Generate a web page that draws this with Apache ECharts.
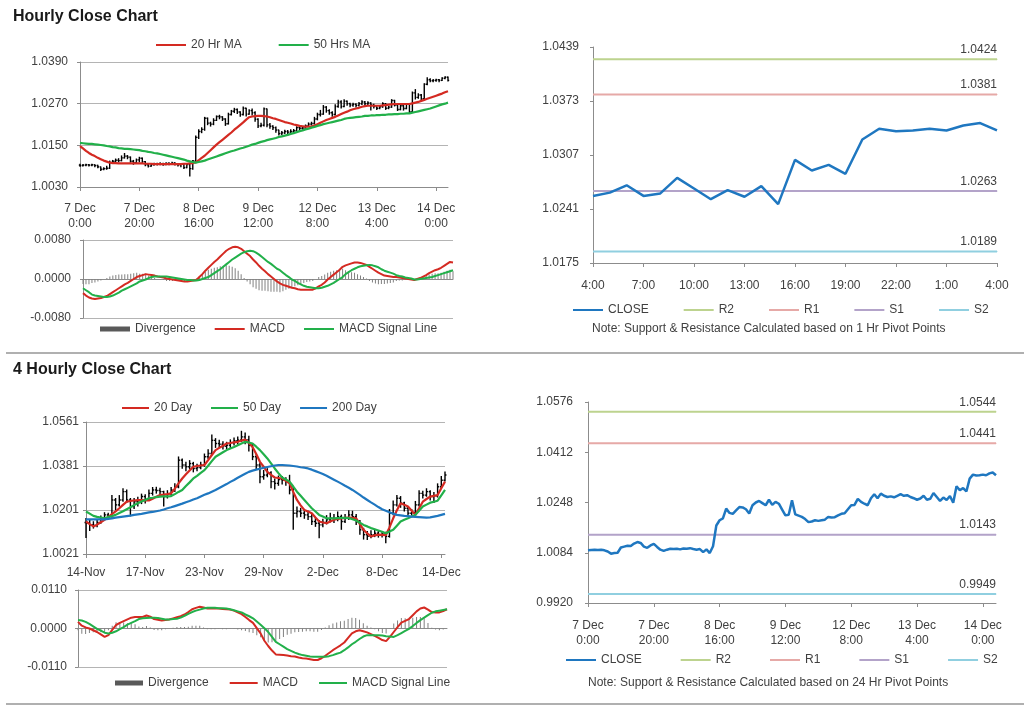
<!DOCTYPE html>
<html><head><meta charset="utf-8">
<script src="https://cdn.jsdelivr.net/npm/echarts@6/dist/echarts.min.js"></script>
<style>html,body{margin:0;padding:0;background:#fff}#c{width:1024px;height:706px}</style>
</head><body><div id="c"></div><script>
// ---------- hourly data (7 Dec 0:00 .. 14 Dec 4:00) ----------
const hourTickLabels = ['7 Dec\n0:00','7 Dec\n20:00','8 Dec\n16:00','9 Dec\n12:00','12 Dec\n8:00','13 Dec\n4:00','14 Dec\n0:00'];
const hourFirstOpen = 1.0093;
const hourClose = [
1.0092,1.0093,1.0094,1.0093,1.0094,1.0092,1.0088,1.0081,1.0083,1.0084,
1.0101,1.0104,1.0107,1.0106,1.0114,1.0119,1.0116,1.0104,1.0100,1.0108,
1.0113,1.0103,1.0094,1.0090,1.0094,1.0097,1.0096,1.0097,1.0095,1.0098,
1.0097,1.0099,1.0096,1.0094,1.0096,1.0086,1.0095,1.0083,1.0105,1.0173,
1.0190,1.0196,1.0228,1.0214,1.0211,1.0222,1.0233,1.0232,1.0226,1.0212,
1.0239,1.0248,1.0253,1.0246,1.0239,1.0257,1.0240,1.0250,1.0244,1.0225,
1.0206,1.0208,1.0255,1.0209,1.0205,1.0201,1.0194,1.0184,1.0186,1.0190,
1.0188,1.0190,1.0192,1.0201,1.0199,1.0200,1.0206,1.0211,1.0213,1.0226,
1.0239,1.0240,1.0260,1.0250,1.0244,1.0239,1.0262,1.0275,1.0262,1.0277,
1.0270,1.0266,1.0268,1.0265,1.0270,1.0275,1.0270,1.0272,1.0266,1.0262,
1.0257,1.0261,1.0270,1.0257,1.0260,1.0279,1.0266,1.0253,1.0264,1.0256,
1.0269,1.0247,1.0301,1.0288,1.0295,1.0284,1.0326,1.0339,1.0336,1.0337,
1.0339,1.0337,1.0343,1.0346,1.0337];
const hourHigh = [
1.0097,1.0096,1.0097,1.0096,1.0097,1.0095,1.0094,1.0089,1.0087,1.0091,
1.0106,1.0108,1.0112,1.0113,1.0121,1.0128,1.0122,1.0118,1.0108,1.0112,
1.0117,1.0115,1.0105,1.0096,1.0098,1.0100,1.0100,1.0101,1.0100,1.0101,
1.0101,1.0103,1.0101,1.0099,1.0099,1.0098,1.0099,1.0097,1.0108,1.0178,
1.0196,1.0202,1.0232,1.0230,1.0218,1.0228,1.0236,1.0238,1.0234,1.0228,
1.0244,1.0252,1.0258,1.0256,1.0248,1.0262,1.0258,1.0254,1.0256,1.0248,
1.0228,1.0215,1.0259,1.0256,1.0214,1.0208,1.0204,1.0195,1.0191,1.0195,
1.0194,1.0196,1.0197,1.0205,1.0204,1.0205,1.0210,1.0216,1.0218,1.0232,
1.0244,1.0252,1.0266,1.0263,1.0254,1.0248,1.0268,1.0281,1.0280,1.0283,
1.0279,1.0273,1.0273,1.0271,1.0275,1.0280,1.0278,1.0277,1.0274,1.0270,
1.0262,1.0265,1.0274,1.0272,1.0264,1.0283,1.0281,1.0268,1.0267,1.0266,
1.0272,1.0271,1.0305,1.0312,1.0300,1.0298,1.0329,1.0346,1.0343,1.0341,
1.0342,1.0341,1.0346,1.0349,1.0348];
const hourLow = [
1.0088,1.0089,1.0090,1.0089,1.0090,1.0087,1.0084,1.0076,1.0078,1.0080,
1.0082,1.0099,1.0102,1.0101,1.0104,1.0112,1.0110,1.0100,1.0094,1.0098,
1.0101,1.0099,1.0090,1.0086,1.0088,1.0092,1.0092,1.0093,1.0091,1.0093,
1.0093,1.0094,1.0092,1.0089,1.0087,1.0082,1.0084,1.0060,1.0080,1.0102,
1.0168,1.0185,1.0192,1.0208,1.0204,1.0208,1.0220,1.0225,1.0220,1.0206,
1.0210,1.0236,1.0243,1.0240,1.0232,1.0236,1.0233,1.0238,1.0236,1.0218,
1.0200,1.0202,1.0204,1.0202,1.0198,1.0194,1.0186,1.0178,1.0180,1.0183,
1.0182,1.0184,1.0186,1.0190,1.0193,1.0195,1.0198,1.0203,1.0207,1.0210,
1.0222,1.0233,1.0238,1.0244,1.0238,1.0232,1.0236,1.0258,1.0256,1.0260,
1.0264,1.0260,1.0261,1.0259,1.0262,1.0266,1.0264,1.0264,1.0250,1.0256,
1.0252,1.0254,1.0258,1.0252,1.0254,1.0258,1.0262,1.0249,1.0251,1.0250,
1.0254,1.0242,1.0244,1.0282,1.0284,1.0280,1.0282,1.0323,1.0332,1.0332,
1.0333,1.0332,1.0335,1.0340,1.0334];
const hourMA20 = [
1.0148,1.0141,1.0134,1.0128,1.0123,1.0119,1.0114,1.0110,1.0106,1.0103,
1.0100,1.0099,1.0099,1.0098,1.0098,1.0098,1.0098,1.0098,1.0098,1.0098,
1.0098,1.0098,1.0097,1.0097,1.0097,1.0096,1.0096,1.0096,1.0096,1.0096,
1.0096,1.0096,1.0096,1.0096,1.0096,1.0097,1.0097,1.0098,1.0099,1.0101,
1.0107,1.0114,1.0120,1.0128,1.0136,1.0144,1.0152,1.0159,1.0166,1.0173,
1.0180,1.0187,1.0195,1.0202,1.0209,1.0216,1.0224,1.0231,1.0233,1.0234,
1.0235,1.0235,1.0234,1.0233,1.0231,1.0228,1.0226,1.0223,1.0220,1.0217,
1.0215,1.0213,1.0210,1.0208,1.0206,1.0205,1.0204,1.0204,1.0204,1.0207,
1.0211,1.0215,1.0219,1.0223,1.0226,1.0229,1.0232,1.0236,1.0240,1.0244,
1.0247,1.0251,1.0254,1.0256,1.0258,1.0261,1.0263,1.0264,1.0264,1.0264,
1.0264,1.0264,1.0265,1.0266,1.0267,1.0268,1.0269,1.0269,1.0269,1.0269,
1.0269,1.0269,1.0271,1.0273,1.0275,1.0278,1.0281,1.0284,1.0287,1.0290,
1.0293,1.0296,1.0299,1.0303,1.0306];
const hourMA50 = [
1.0157,1.0156,1.0155,1.0154,1.0154,1.0153,1.0152,1.0151,1.0150,1.0148,
1.0147,1.0145,1.0144,1.0142,1.0141,1.0140,1.0140,1.0139,1.0138,1.0137,
1.0136,1.0134,1.0133,1.0131,1.0130,1.0128,1.0127,1.0125,1.0123,1.0121,
1.0119,1.0117,1.0115,1.0113,1.0111,1.0109,1.0106,1.0104,1.0102,1.0100,
1.0102,1.0104,1.0106,1.0109,1.0112,1.0115,1.0118,1.0121,1.0124,1.0127,
1.0130,1.0133,1.0135,1.0138,1.0141,1.0143,1.0146,1.0149,1.0152,1.0154,
1.0157,1.0160,1.0162,1.0165,1.0167,1.0169,1.0171,1.0174,1.0176,1.0178,
1.0180,1.0183,1.0185,1.0188,1.0191,1.0193,1.0196,1.0198,1.0201,1.0203,
1.0206,1.0208,1.0211,1.0213,1.0215,1.0217,1.0219,1.0221,1.0223,1.0226,
1.0228,1.0229,1.0230,1.0231,1.0232,1.0233,1.0235,1.0235,1.0236,1.0236,
1.0237,1.0237,1.0238,1.0238,1.0239,1.0239,1.0240,1.0240,1.0241,1.0241,
1.0242,1.0242,1.0244,1.0246,1.0248,1.0250,1.0252,1.0254,1.0256,1.0259,
1.0262,1.0265,1.0268,1.0270,1.0273];
const hourMACD = [
-0.0029,-0.0034,-0.0038,-0.0040,-0.0041,-0.0040,-0.0039,-0.0037,-0.0035,-0.0031,
-0.0027,-0.0023,-0.0019,-0.0015,-0.0011,-0.0008,-0.0004,0.0000,0.0004,0.0006,
0.0008,0.0010,0.0009,0.0008,0.0007,0.0005,0.0004,0.0003,0.0001,0.0000,
-0.0001,-0.0002,-0.0003,-0.0004,-0.0005,-0.0005,-0.0004,-0.0003,-0.0002,0.0004,
0.0010,0.0017,0.0023,0.0029,0.0035,0.0040,0.0046,0.0052,0.0058,0.0062,
0.0065,0.0066,0.0065,0.0062,0.0057,0.0052,0.0047,0.0040,0.0034,0.0027,
0.0021,0.0016,0.0010,0.0005,0.0000,-0.0005,-0.0009,-0.0012,-0.0014,-0.0016,
-0.0018,-0.0019,-0.0021,-0.0022,-0.0022,-0.0022,-0.0022,-0.0022,-0.0019,-0.0015,
-0.0012,-0.0007,-0.0001,0.0004,0.0009,0.0014,0.0019,0.0025,0.0028,0.0030,
0.0032,0.0034,0.0034,0.0033,0.0031,0.0029,0.0025,0.0021,0.0017,0.0013,
0.0010,0.0007,0.0006,0.0005,0.0004,0.0004,0.0003,0.0002,0.0001,0.0000,
-0.0001,-0.0002,0.0000,0.0002,0.0005,0.0008,0.0012,0.0015,0.0018,0.0020,
0.0023,0.0027,0.0031,0.0035,0.0034];
const hourSignal = [
-0.0019,-0.0023,-0.0027,-0.0032,-0.0034,-0.0035,-0.0036,-0.0037,-0.0037,-0.0036,
-0.0034,-0.0031,-0.0028,-0.0024,-0.0021,-0.0018,-0.0015,-0.0012,-0.0009,-0.0005,
-0.0003,-0.0001,0.0002,0.0004,0.0005,0.0005,0.0005,0.0005,0.0005,0.0004,
0.0003,0.0002,0.0001,0.0000,-0.0001,-0.0002,-0.0002,-0.0003,-0.0003,-0.0002,
0.0000,0.0002,0.0004,0.0008,0.0012,0.0016,0.0020,0.0025,0.0030,0.0035,
0.0040,0.0044,0.0048,0.0052,0.0055,0.0057,0.0058,0.0057,0.0054,0.0050,
0.0045,0.0040,0.0035,0.0031,0.0026,0.0021,0.0018,0.0013,0.0008,0.0004,
-0.0001,-0.0004,-0.0008,-0.0011,-0.0014,-0.0016,-0.0017,-0.0018,-0.0019,-0.0019,
-0.0018,-0.0016,-0.0014,-0.0011,-0.0008,-0.0004,0.0000,0.0004,0.0010,0.0014,
0.0018,0.0021,0.0024,0.0026,0.0027,0.0028,0.0029,0.0028,0.0026,0.0024,
0.0020,0.0017,0.0015,0.0013,0.0011,0.0008,0.0006,0.0005,0.0003,0.0002,
0.0001,-0.0001,-0.0001,0.0000,0.0001,0.0002,0.0003,0.0004,0.0006,0.0008,
0.0010,0.0012,0.0014,0.0016,0.0018];
// last 24 hours (13 Dec 4:00 .. 14 Dec 4:00) of the hourly closes
const lastDayStart = 100;
const lastDayTickLabels = ['4:00','7:00','10:00','13:00','16:00','19:00','22:00','1:00','4:00'];
const hourPivots = {R2:1.0424, R1:1.0381, S1:1.0263, S2:1.0189};
const dayPivots  = {R2:1.0544, R1:1.0441, S1:1.0143, S2:0.9949};

// ---------- 4-hourly data (14 Nov .. 14 Dec) ----------
const fourTickLabels = ['14-Nov','17-Nov','23-Nov','29-Nov','2-Dec','8-Dec','14-Dec'];
const fourFirstOpen = 1.0150;
const fourClose = [
1.0147,1.0140,1.0138,1.0150,1.0167,1.0181,1.0174,1.0242,1.0222,1.0242,
1.0276,1.0242,1.0215,1.0235,1.0232,1.0256,1.0242,1.0269,1.0283,1.0281,
1.0276,1.0256,1.0268,1.0283,1.0296,1.0405,1.0385,1.0378,1.0391,1.0371,
1.0375,1.0385,1.0419,1.0432,1.0486,1.0473,1.0470,1.0462,1.0466,1.0476,
1.0484,1.0487,1.0500,1.0489,1.0466,1.0419,1.0385,1.0337,1.0344,1.0353,
1.0317,1.0310,1.0326,1.0323,1.0317,1.0283,1.0188,1.0195,1.0188,1.0181,
1.0174,1.0154,1.0147,1.0140,1.0150,1.0161,1.0167,1.0163,1.0174,1.0154,
1.0167,1.0181,1.0174,1.0154,1.0120,1.0100,1.0093,1.0100,1.0106,1.0100,
1.0104,1.0093,1.0188,1.0222,1.0249,1.0229,1.0208,1.0188,1.0191,1.0222,
1.0269,1.0262,1.0276,1.0256,1.0259,1.0296,1.0323,1.0344];
const fourHigh = [
1.0168,1.0160,1.0155,1.0162,1.0178,1.0192,1.0190,1.0262,1.0250,1.0262,
1.0290,1.0285,1.0250,1.0250,1.0255,1.0268,1.0265,1.0285,1.0295,1.0296,
1.0292,1.0280,1.0282,1.0295,1.0310,1.0420,1.0412,1.0398,1.0405,1.0398,
1.0390,1.0398,1.0432,1.0450,1.0510,1.0495,1.0488,1.0482,1.0480,1.0490,
1.0498,1.0502,1.0525,1.0518,1.0505,1.0475,1.0430,1.0395,1.0365,1.0372,
1.0360,1.0330,1.0342,1.0340,1.0335,1.0345,1.0295,1.0215,1.0210,1.0205,
1.0198,1.0185,1.0168,1.0160,1.0165,1.0180,1.0190,1.0185,1.0195,1.0182,
1.0185,1.0200,1.0198,1.0185,1.0160,1.0128,1.0115,1.0118,1.0122,1.0118,
1.0115,1.0112,1.0205,1.0240,1.0262,1.0258,1.0235,1.0215,1.0205,1.0238,
1.0282,1.0280,1.0290,1.0282,1.0275,1.0310,1.0340,1.0358];
const fourLow = [
1.0086,1.0115,1.0125,1.0130,1.0145,1.0160,1.0165,1.0170,1.0200,1.0215,
1.0235,1.0230,1.0175,1.0205,1.0215,1.0225,1.0228,1.0238,1.0260,1.0268,
1.0262,1.0215,1.0248,1.0260,1.0275,1.0290,1.0370,1.0360,1.0368,1.0355,
1.0360,1.0368,1.0378,1.0410,1.0425,1.0455,1.0455,1.0448,1.0450,1.0455,
1.0465,1.0470,1.0480,1.0470,1.0440,1.0405,1.0365,1.0310,1.0325,1.0335,
1.0290,1.0285,1.0300,1.0305,1.0300,1.0265,1.0120,1.0170,1.0172,1.0165,
1.0160,1.0140,1.0132,1.0085,1.0130,1.0142,1.0150,1.0148,1.0155,1.0120,
1.0148,1.0160,1.0160,1.0140,1.0100,1.0080,1.0078,1.0085,1.0090,1.0088,
1.0088,1.0065,1.0088,1.0180,1.0215,1.0210,1.0195,1.0175,1.0178,1.0185,
1.0215,1.0248,1.0255,1.0240,1.0230,1.0252,1.0290,1.0318];
const fourMA20 = [
1.0154,1.0143,1.0134,1.0141,1.0151,1.0161,1.0172,1.0184,1.0195,1.0208,
1.0222,1.0235,1.0238,1.0240,1.0242,1.0241,1.0240,1.0240,1.0247,1.0255,
1.0262,1.0264,1.0266,1.0269,1.0288,1.0310,1.0330,1.0347,1.0363,1.0378,
1.0381,1.0383,1.0385,1.0405,1.0426,1.0446,1.0455,1.0464,1.0473,1.0475,
1.0478,1.0480,1.0485,1.0489,1.0475,1.0459,1.0430,1.0398,1.0378,1.0357,
1.0345,1.0334,1.0332,1.0330,1.0320,1.0310,1.0275,1.0242,1.0220,1.0201,
1.0195,1.0188,1.0170,1.0154,1.0150,1.0147,1.0154,1.0161,1.0164,1.0167,
1.0169,1.0170,1.0169,1.0167,1.0143,1.0120,1.0105,1.0093,1.0097,1.0100,
1.0099,1.0098,1.0130,1.0167,1.0200,1.0229,1.0222,1.0215,1.0198,1.0181,
1.0208,1.0235,1.0246,1.0256,1.0259,1.0262,1.0290,1.0317];
const fourMA50 = [
1.0195,1.0186,1.0177,1.0173,1.0170,1.0167,1.0172,1.0176,1.0181,1.0189,
1.0196,1.0204,1.0212,1.0221,1.0229,1.0236,1.0242,1.0249,1.0251,1.0254,
1.0256,1.0257,1.0257,1.0258,1.0266,1.0275,1.0283,1.0299,1.0314,1.0330,
1.0341,1.0353,1.0364,1.0382,1.0401,1.0419,1.0428,1.0437,1.0446,1.0453,
1.0459,1.0466,1.0473,1.0480,1.0477,1.0473,1.0460,1.0446,1.0429,1.0412,
1.0392,1.0371,1.0352,1.0334,1.0326,1.0317,1.0297,1.0276,1.0259,1.0242,
1.0225,1.0208,1.0195,1.0181,1.0174,1.0167,1.0167,1.0167,1.0168,1.0169,
1.0169,1.0168,1.0163,1.0158,1.0149,1.0140,1.0134,1.0127,1.0122,1.0117,
1.0112,1.0106,1.0113,1.0120,1.0137,1.0154,1.0161,1.0167,1.0174,1.0181,
1.0198,1.0215,1.0223,1.0231,1.0235,1.0239,1.0261,1.0283];
const fourMA200 = [
1.0163,1.0163,1.0163,1.0163,1.0163,1.0163,1.0165,1.0167,1.0170,1.0172,
1.0174,1.0176,1.0178,1.0181,1.0183,1.0185,1.0188,1.0191,1.0193,1.0196,
1.0199,1.0203,1.0208,1.0212,1.0217,1.0222,1.0227,1.0233,1.0238,1.0244,
1.0249,1.0256,1.0263,1.0269,1.0276,1.0283,1.0291,1.0299,1.0307,1.0316,
1.0324,1.0333,1.0341,1.0349,1.0357,1.0362,1.0366,1.0370,1.0374,1.0377,
1.0380,1.0383,1.0385,1.0385,1.0384,1.0383,1.0381,1.0379,1.0376,1.0374,
1.0371,1.0366,1.0360,1.0354,1.0348,1.0341,1.0333,1.0325,1.0317,1.0309,
1.0300,1.0292,1.0283,1.0273,1.0263,1.0252,1.0242,1.0232,1.0223,1.0213,
1.0204,1.0198,1.0192,1.0186,1.0181,1.0179,1.0177,1.0176,1.0174,1.0173,
1.0172,1.0171,1.0170,1.0171,1.0174,1.0177,1.0181,1.0185];
const fourMACD = [
0.0019,0.0008,0.0003,0.0000,-0.0005,-0.0010,-0.0017,-0.0024,-0.0019,-0.0004,
0.0010,0.0016,0.0021,0.0026,0.0031,0.0033,0.0033,0.0033,0.0037,0.0034,
0.0027,0.0025,0.0023,0.0024,0.0026,0.0029,0.0032,0.0035,0.0040,0.0047,
0.0055,0.0059,0.0062,0.0060,0.0057,0.0057,0.0057,0.0057,0.0056,0.0055,
0.0054,0.0051,0.0046,0.0041,0.0033,0.0024,0.0016,0.0001,-0.0014,-0.0035,
-0.0050,-0.0063,-0.0074,-0.0075,-0.0076,-0.0077,-0.0079,-0.0080,-0.0083,-0.0085,
-0.0086,-0.0088,-0.0090,-0.0090,-0.0085,-0.0078,-0.0070,-0.0062,-0.0055,-0.0048,
-0.0040,-0.0027,-0.0014,-0.0008,-0.0005,-0.0008,-0.0011,-0.0016,-0.0021,-0.0027,
-0.0033,-0.0036,-0.0024,-0.0010,0.0004,0.0017,0.0022,0.0027,0.0038,0.0049,
0.0057,0.0060,0.0054,0.0047,0.0046,0.0046,0.0050,0.0055];
const fourSignal = [
0.0024,0.0023,0.0019,0.0013,0.0006,-0.0001,-0.0006,-0.0012,-0.0014,-0.0012,
-0.0008,-0.0002,0.0004,0.0011,0.0016,0.0021,0.0027,0.0029,0.0030,0.0031,
0.0031,0.0030,0.0028,0.0026,0.0026,0.0027,0.0028,0.0031,0.0036,0.0042,
0.0047,0.0051,0.0054,0.0057,0.0059,0.0059,0.0059,0.0058,0.0058,0.0057,
0.0055,0.0052,0.0049,0.0046,0.0040,0.0035,0.0029,0.0020,0.0011,0.0001,
-0.0010,-0.0024,-0.0038,-0.0045,-0.0052,-0.0059,-0.0064,-0.0069,-0.0073,-0.0076,
-0.0078,-0.0080,-0.0081,-0.0081,-0.0081,-0.0081,-0.0079,-0.0076,-0.0072,-0.0069,
-0.0062,-0.0054,-0.0045,-0.0038,-0.0030,-0.0023,-0.0019,-0.0019,-0.0019,-0.0019,
-0.0020,-0.0022,-0.0023,-0.0024,-0.0019,-0.0013,-0.0007,-0.0001,0.0007,0.0016,
0.0024,0.0031,0.0038,0.0045,0.0049,0.0051,0.0053,0.0055];

// ---------- styling ----------
const FONT = "'Liberation Sans', Arial, Helvetica, sans-serif";
const TXT = '#404040', AXIS = '#8c8c8c', GRIDC = '#b4b4b4';
const RED = '#d42a22', GREEN = '#22b04a', BLUE = '#1f77c0', BARGRAY = '#808080';
const LEVEL_COLORS = {R2:'#bdd38f', R1:'#e6a9a7', S1:'#b3a3c9', S2:'#90cfe0'};

const ohlc = (close, high, low, firstOpen) =>
  close.map((c, i) => [i, i === 0 ? firstOpen : close[i - 1], c, low[i], high[i]]);
const diff = (a, b) => a.map((v, i) => +(v - b[i]).toFixed(4));
const idx = n => Array.from({length: n}, (_, i) => String(i));

function renderOHLC(params, api) {
  const x = api.value(0);
  const o = api.coord([x, api.value(1)]), c = api.coord([x, api.value(2)]);
  const l = api.coord([x, api.value(3)]), h = api.coord([x, api.value(4)]);
  const w = Math.max(1.2, api.size([1, 0])[0] * 0.4);
  const st = {stroke: '#000', lineWidth: 1.4};
  return {type: 'group', children: [
    {type: 'line', shape: {x1: h[0], y1: h[1], x2: l[0], y2: l[1]}, style: st},
    {type: 'line', shape: {x1: o[0] - w, y1: o[1], x2: o[0], y2: o[1]}, style: st},
    {type: 'line', shape: {x1: c[0], y1: c[1], x2: c[0] + w, y2: c[1]}, style: st}
  ]};
}

function catAxis(g, n, extra) {
  return Object.assign({
    type: 'category', gridIndex: g, data: idx(n), boundaryGap: false,
    axisLine: {show: true, lineStyle: {color: AXIS, width: 1}},
    axisTick: {show: false}, axisLabel: {show: false}, splitLine: {show: false}
  }, extra || {});
}
function ticked(step, labels, margin, lh) {
  return {
    axisTick: {show: true, interval: step - 1, length: 4, lineStyle: {color: AXIS}},
    axisLabel: {show: true, interval: step - 1, margin, color: TXT, fontSize: 12, fontFamily: FONT,
      lineHeight: lh, formatter: (v, i) => labels[i / step] ?? ''}
  };
}
function valAxis(g, min, max, interval, grid, margin) {
  return {type: 'value', gridIndex: g, min, max, interval,
    axisLine: {show: true, lineStyle: {color: AXIS}},
    axisTick: {show: true, length: 3, lineStyle: {color: AXIS}},
    axisLabel: {color: TXT, fontSize: 12, fontFamily: FONT, margin, formatter: v => v.toFixed(4)},
    splitLine: {show: grid, lineStyle: {color: GRIDC, width: 1}}};
}
function line(name, x, data, color, width) {
  return {name, type: 'line', xAxisIndex: x, yAxisIndex: x, data, symbol: 'none', showSymbol: false,
    lineStyle: {color, width: width || 2}, itemStyle: {color}, z: 3};
}
// horizontal pivot level across the whole axis, labelled at its right end
function level(name, x, n, value) {
  const color = LEVEL_COLORS[name];
  const data = Array.from({length: n}, (_, i) => i === n - 1
    ? {value, symbol: 'circle', symbolSize: 1, label: {show: true}}
    : value);
  return {name, type: 'line', xAxisIndex: x, yAxisIndex: x, data, symbol: 'none', showSymbol: true,
    showAllSymbol: true, lineStyle: {color, width: 2}, itemStyle: {color}, z: 2, silent: true,
    label: {show: false, position: 'top', align: 'right', distance: 3, formatter: value.toFixed(4),
      color: TXT, fontSize: 12, fontFamily: FONT}};
}
const noDot = {opacity: 0};
function legend(names, left, top, gap, w) {
  const data = names.map(n => n === 'Divergence'
    ? {name: n, icon: 'rect', itemStyle: {color: '#595959', opacity: 1}}
    : {name: n, itemStyle: noDot});
  return {data, left, top, padding: 0, itemGap: gap, itemWidth: w || 30, itemHeight: 5, selectedMode: false,
    textStyle: {color: TXT, fontSize: 12, fontFamily: FONT}};
}
const titleFont = "'Liberation Sans Narrow', 'Liberation Sans', Arial";
const noteStyle = {fontSize: 12, fontWeight: 'normal', color: TXT, fontFamily: FONT};

const lastDayClose = hourClose.slice(lastDayStart);

const option = {
  animation: false,
  backgroundColor: '#fff',
  title: [
    {text: 'Hourly Close Chart', left: 13, top: 9, padding: 0, textStyle: {fontSize: 16, fontWeight: 'bold', color: '#1a1a1a', fontFamily: titleFont}},
    {text: '4 Hourly Close Chart', left: 13, top: 362, padding: 0, textStyle: {fontSize: 16, fontWeight: 'bold', color: '#1a1a1a', fontFamily: titleFont}},
    {text: 'Note: Support & Resistance Calculated based on 1 Hr Pivot Points', left: 592, top: 323, padding: 0, textStyle: noteStyle},
    {text: 'Note: Support & Resistance Calculated based on 24 Hr Pivot Points', left: 588, top: 677, padding: 0, textStyle: noteStyle}
  ],
  graphic: [
    {type: 'line', shape: {x1: 6, y1: 353, x2: 1024, y2: 353}, style: {stroke: '#b0b0b0', lineWidth: 2}},
    {type: 'line', shape: {x1: 6, y1: 704, x2: 1024, y2: 704}, style: {stroke: '#b0b0b0', lineWidth: 2}}
  ],
  legend: [
    legend(['20 Hr MA', '50 Hrs MA'], 155, 39, 36),
    legend(['Divergence', 'MACD', 'MACD Signal Line'], 100, 323, 18),
    legend(['CLOSE', 'R2', 'R1', 'S1', 'S2'], 572, 304, 34),
    legend(['20 Day', '50 Day', '200 Day'], 121, 402, 18, 27),
    legend(['Divergence', 'MACD', 'MACD Signal Line'], 115, 677, 20, 28),
    legend(['CLOSE', 'R2', 'R1', 'S1', 'S2'], 565, 654, 38)
  ],
  grid: [
    {left: 80, top: 62, width: 368, height: 125},
    {left: 83, top: 240, width: 370, height: 78},
    {left: 593, top: 47, width: 404, height: 216},
    {left: 86, top: 422, width: 359, height: 132},
    {left: 78, top: 590, width: 369, height: 77},
    {left: 588, top: 402, width: 408, height: 201}
  ],
  xAxis: [
    catAxis(0, hourClose.length, ticked(20, hourTickLabels, 14, 15)),
    catAxis(1, hourClose.length),
    catAxis(2, lastDayClose.length, ticked(3, lastDayTickLabels, 15, 15)),
    catAxis(3, fourClose.length, ticked(16, fourTickLabels, 11, 15)),
    catAxis(4, fourClose.length),
    catAxis(5, hourClose.length, ticked(20, hourTickLabels, 15, 15))
  ],
  yAxis: [
    valAxis(0, 1.0030, 1.0390, 0.0120, true, 12),
    valAxis(1, -0.0080, 0.0080, 0.0080, true, 12),
    valAxis(2, 1.0175, 1.0439, 0.0066, false, 14),
    valAxis(3, 1.0021, 1.0561, 0.0180, true, 7),
    valAxis(4, -0.0110, 0.0110, 0.0110, true, 11),
    valAxis(5, 0.9920, 1.0576, 0.0164, false, 15)
  ],
  series: [
    {type: 'custom', name: 'Hourly', xAxisIndex: 0, yAxisIndex: 0, renderItem: renderOHLC,
      data: ohlc(hourClose, hourHigh, hourLow, hourFirstOpen), encode: {x: 0, y: [1, 2, 3, 4]}, z: 2},
    line('20 Hr MA', 0, hourMA20, RED, 2.2),
    line('50 Hrs MA', 0, hourMA50, GREEN, 2.2),
    {name: 'Divergence', type: 'bar', xAxisIndex: 1, yAxisIndex: 1, data: diff(hourMACD, hourSignal),
      barWidth: 1, itemStyle: {color: BARGRAY}},
    line('MACD', 1, hourMACD, RED, 2),
    line('MACD Signal Line', 1, hourSignal, GREEN, 2),
    level('R2', 2, lastDayClose.length, hourPivots.R2), level('R1', 2, lastDayClose.length, hourPivots.R1),
    level('S1', 2, lastDayClose.length, hourPivots.S1), level('S2', 2, lastDayClose.length, hourPivots.S2),
    line('CLOSE', 2, lastDayClose, BLUE, 2.5),
    {type: 'custom', name: '4 Hourly', xAxisIndex: 3, yAxisIndex: 3, renderItem: renderOHLC,
      data: ohlc(fourClose, fourHigh, fourLow, fourFirstOpen), encode: {x: 0, y: [1, 2, 3, 4]}, z: 2},
    line('20 Day', 3, fourMA20, RED, 2.2),
    line('50 Day', 3, fourMA50, GREEN, 2.2),
    line('200 Day', 3, fourMA200, BLUE, 2.2),
    {name: 'Divergence', type: 'bar', xAxisIndex: 4, yAxisIndex: 4, data: diff(fourMACD, fourSignal),
      barWidth: 1, itemStyle: {color: BARGRAY}},
    line('MACD', 4, fourMACD, RED, 2),
    line('MACD Signal Line', 4, fourSignal, GREEN, 2),
    level('R2', 5, hourClose.length, dayPivots.R2), level('R1', 5, hourClose.length, dayPivots.R1),
    level('S1', 5, hourClose.length, dayPivots.S1), level('S2', 5, hourClose.length, dayPivots.S2),
    line('CLOSE', 5, hourClose, BLUE, 2.5)
  ]
};
const chart = echarts.init(document.getElementById('c'), null, {renderer: 'canvas'});
chart.setOption(option);
</script></body></html>
